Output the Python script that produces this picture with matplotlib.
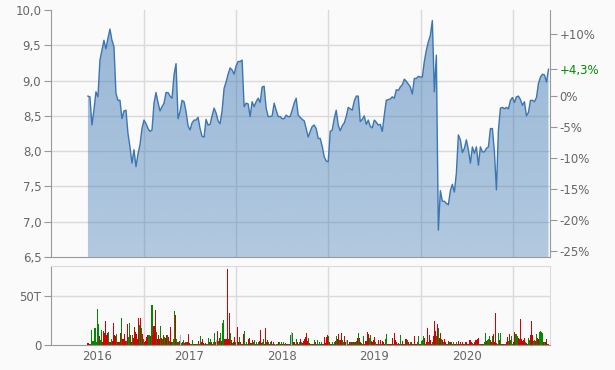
import numpy as np
import pandas as pd
import matplotlib
matplotlib.use("Agg")
import matplotlib.pyplot as plt
import matplotlib.dates as mdates
from matplotlib.ticker import FuncFormatter

# Kurs (EUR), ein Wert alle ~8 Tage
price = [
    8.78, 8.77, 8.37, 8.58, 8.84, 8.77, 9.29, 9.43, 9.57, 9.45,
    9.60, 9.73, 9.57, 9.48, 8.82, 8.72, 8.72, 8.46, 8.57, 8.58,
    8.25, 8.06, 7.83, 8.02, 7.78, 7.96, 8.09, 8.32, 8.44, 8.39,
    8.32, 8.28, 8.30, 8.68, 8.83, 8.69, 8.57, 8.63, 8.68, 8.83,
    8.83, 8.78, 8.75, 9.08, 9.24, 8.46, 8.56, 8.72, 8.70, 8.56,
    8.36, 8.30, 8.40, 8.44, 8.44, 8.48, 8.32, 8.21, 8.20, 8.45,
    8.37, 8.38, 8.50, 8.61, 8.54, 8.43, 8.39, 8.57, 8.89, 8.98,
    9.09, 9.18, 9.15, 9.09, 9.21, 9.27, 9.27, 9.29, 8.63, 8.68,
    8.67, 8.49, 8.70, 8.63, 8.70, 8.75, 8.69, 8.91, 8.92, 8.61,
    8.49, 8.49, 8.50, 8.68, 8.58, 8.49, 8.49, 8.46, 8.46, 8.51,
    8.49, 8.49, 8.58, 8.68, 8.75, 8.51, 8.48, 8.45, 8.43, 8.32,
    8.20, 8.28, 8.35, 8.37, 8.32, 8.18, 8.18, 8.07, 7.92, 7.86,
    7.85, 8.28, 8.30, 8.46, 8.58, 8.37, 8.29, 8.36, 8.40, 8.49,
    8.62, 8.60, 8.58, 8.71, 8.78, 8.78, 8.42, 8.45, 8.50, 8.38,
    8.44, 8.35, 8.33, 8.44, 8.41, 8.37, 8.38, 8.28, 8.51, 8.72,
    8.73, 8.74, 8.77, 8.75, 8.87, 8.86, 8.91, 8.94, 9.02, 8.99,
    8.95, 8.91, 8.81, 9.03, 9.03, 9.06, 9.05, 9.05, 9.27, 9.43,
    9.55, 9.64, 9.85, 8.84, 9.36, 6.88, 7.44, 7.29, 7.29, 7.26,
    7.24, 7.44, 7.53, 7.42, 7.69, 8.23, 8.16, 7.98, 8.04, 8.16,
    8.02, 7.83, 8.06, 7.97, 8.06, 7.80, 8.06, 7.99, 7.99, 8.04,
    8.06, 8.32, 8.32, 7.99, 7.45, 8.30, 8.61, 8.62, 8.60, 8.62,
    8.60, 8.72, 8.76, 8.69, 8.77, 8.78, 8.73, 8.65, 8.70, 8.50,
    8.55, 8.72, 8.72, 8.70, 8.76, 8.96, 9.05, 9.09, 9.08, 8.98,
    9.16,
]

# Umsatz in Tausend Stueck, ein Balken alle ~4 Tage
vol_k = [
    2, 2, 1, 1, 15, 4, 4, 17, 17, 3,
    37, 21, 9, 5, 15, 3, 14, 12, 25, 10,
    12, 13, 3, 3, 6, 4, 22, 10, 9, 11,
    3, 3, 3, 12, 28, 6, 6, 11, 4, 4,
    21, 8, 22, 10, 3, 10, 7, 18, 13, 11,
    6, 28, 20, 28, 17, 11, 6, 3, 4, 8,
    10, 10, 7, 9, 41, 10, 19, 36, 13, 6,
    10, 6, 19, 7, 6, 10, 8, 7, 10, 10,
    8, 4, 18, 3, 3, 6, 35, 31, 6, 3,
    3, 4, 10, 2, 3, 5, 2, 3, 3, 3,
    11, 2, 1, 1, 5, 1, 1, 1, 1, 1,
    4, 1, 9, 3, 6, 2, 1, 2, 1, 1,
    7, 3, 6, 3, 1, 3, 12, 3, 5, 14,
    4, 7, 12, 4, 22, 26, 6, 6, 6, 78,
    6, 33, 12, 5, 2, 3, 8, 3, 1, 18,
    3, 8, 3, 1, 1, 11, 14, 1, 3, 1,
    6, 7, 2, 2, 5, 3, 5, 1, 3, 1,
    3, 4, 15, 2, 3, 6, 1, 17, 3, 5,
    3, 1, 3, 4, 1, 3, 1, 1, 1, 1,
    3, 3, 1, 3, 1, 3, 1, 2, 1, 1,
    1, 1, 10, 13, 12, 3, 3, 1, 6, 3,
    1, 3, 6, 3, 2, 4, 6, 8, 12, 4,
    7, 2, 1, 1, 1, 1, 5, 3, 1, 5,
    1,
    3, 1, 3, 1, 1, 8, 2, 8, 10, 9,
    3, 1, 1, 3, 1, 3, 4, 9, 6, 11,
    5, 5, 12, 5, 3, 9, 3, 5, 5, 1,
    3, 3, 3, 3, 3, 3, 3, 4, 7, 12,
    7, 3, 2, 1, 9, 1, 4, 4, 13, 11,
    7, 10, 4, 3, 5, 8, 3, 1, 1, 5,
    1, 5, 1, 4, 3, 1, 6, 11, 1, 1,
    1, 1, 1, 7, 1, 12, 5, 3, 1, 2,
    1, 10, 1, 4, 1, 1, 6, 6, 5, 3,
    1, 3, 3, 1, 1, 9, 1, 1, 3, 9,
    1, 1, 4, 5, 9, 7, 1, 3, 17, 3,
    10, 5, 1, 3, 9, 24, 14, 9, 21, 17,
    7, 12, 6, 5, 3, 6, 3, 1, 1, 4,
    3, 3, 3, 1, 3, 1, 1, 3, 1, 4,
    1, 3, 1, 3, 1, 1, 3, 3, 1, 1,
    5, 5, 3, 2, 1, 3, 5, 5, 6, 7,
    1, 1, 1, 1, 1, 3, 12, 4, 5, 6,
    9, 5, 3, 9, 11, 3, 33, 2, 1, 12,
    5, 12, 1, 1, 1, 1, 1, 3, 8, 4,
    11, 5, 9, 1, 3, 13, 11, 11, 9, 7,
    6, 27, 6, 4, 5, 7, 3, 2, 1, 7,
    5, 10, 25, 10, 4, 5, 4, 11, 7, 6,
    13, 14, 13, 12, 3, 3, 3, 6, 1, 1,
]
# g = steigend, r = fallend, b = unveraendert
vol_dir = (
    "rrrggggggg" "ggrggrrrrr" "rgrrgrrrrg" "rrrrgrrrrg" "rggrrgrrrr"
    "rrgrgrgrrr" "rggrgrrrgr" "rrgrgrgrrg" "rgrrgggrgr" "grbgrgrrgr"
    "rrgggrrrgg" "rggrrrgrgg" "grgrrggrbr" "grgrggrrrr" "rrgrgrrgbr"
    "rgrgrrgrgg" "rrrgrggrgr" "grrrggrrgr" "grgrgrrbrg" "rgrgrgrgrr"
    "grgbgrrggr" "rgrgrrrrrr" "grrgrrgrrg" "g"
    "grgrrrrrrg" "rrrgggrgrr" "grrggrrbgr" "rgrgrgrgrg" "rrgrgrrrrr"
    "ggrrrrgrrr" "grgrrrggrr" "rrrrgrrrrg" "rgrrrgrrgr" "rgrrgrrrgg"
    "rrgggrgrrg" "rrrgrrrgrg" "rrgrgrrgrr" "grgrgrrgrr" "rrgrrgrrgr"
    "rrrgrrrrrr" "ggrrrggrgg" "grrgrrrgrg" "rgrrrgrrrg" "rgggrrgggr"
    "rrrrrrgrrg" "grrrggrgrr" "ggggrgrrgr"
)

first_day, last_day = "2016-05-26", "2021-05-21"
view_from, view_to = "2016-01-01", "2021-05-27"
years = [2016, 2017, 2018, 2019, 2020]

bg = "#fafafa"
txt = "#666666"
grid_c = "#dadada"
spine_c = "#999999"
plt.rcParams["font.family"] = "DejaVu Sans"
plt.rcParams["font.size"] = 8.5

p_dates = mdates.date2num(pd.date_range(first_day, last_day, periods=len(price)))
v_dates = mdates.date2num(pd.date_range(first_day, last_day, periods=len(vol_k)))
x0, x1 = mdates.date2num(pd.Timestamp(view_from)), mdates.date2num(pd.Timestamp(view_to))
jan = [mdates.date2num(pd.Timestamp(f"{y + 1}-01-01")) for y in years]
jul = [mdates.date2num(pd.Timestamp(f"{y}-07-01")) for y in years]

fig = plt.figure(figsize=(6.15, 3.70), dpi=100, facecolor=bg)
ax = fig.add_axes([51 / 615, 1 - 257 / 370, 499 / 615, 247 / 370], facecolor=bg)
axv = fig.add_axes([51 / 615, 1 - 344.7 / 370, 499 / 615, 78.4 / 370], facecolor=bg)

# --- Kurs ---
ax.set_xlim(x0, x1)
ax.set_ylim(6.5, 10.0)
yt = [6.5, 7.0, 7.5, 8.0, 8.5, 9.0, 9.5, 10.0]
ax.set_yticks(yt)
ax.yaxis.set_major_formatter(FuncFormatter(lambda v, p: f"{v:.1f}".replace(".", ",")))
for v in yt[1:-1]:
    ax.axhline(v, color=grid_c, lw=1, zorder=0)
for d in jan:
    ax.axvline(d, color=grid_c, lw=1, zorder=0)

poly = ax.fill_between(p_dates, price, 6.5, color="none", lw=0)
grad = np.zeros((100, 1, 4))
grad[:, 0, 0] = 60 / 255
grad[:, 0, 1] = 120 / 255
grad[:, 0, 2] = 180 / 255
grad[:, 0, 3] = np.linspace(0.52, 0.38, 100)
img = ax.imshow(grad, extent=[x0, x1, 6.5, 10.0], aspect="auto", origin="upper", zorder=1)
img.set_clip_path(poly.get_paths()[0], transform=ax.transData)
ax.plot(p_dates, price, color="#3b76b2", lw=1.0, zorder=2)

for s in ["top", "right"]:
    ax.spines[s].set_visible(False)
for s in ["left", "bottom"]:
    ax.spines[s].set_color(spine_c)
ax.tick_params(axis="y", colors=spine_c, labelcolor=txt, length=5, pad=2)
ax.tick_params(axis="x", bottom=False, labelbottom=False)

base = price[0]
chg = round((price[-1] / base - 1) * 100, 1)
sec = ax.secondary_yaxis("right", functions=(lambda p: (p / base - 1) * 100,
                                             lambda q: base * (1 + q / 100)))
pct = [10, chg, 0, -5, -10, -15, -20, -25]
labels = []
for q in pct:
    if q == chg:
        labels.append(f"+{q:.1f}%".replace(".", ","))
    elif q > 0:
        labels.append(f"+{q:d}%")
    else:
        labels.append(f"{q:d}%")
sec.set_yticks(pct)
sec.set_yticklabels(labels)
sec.spines["right"].set_color(spine_c)
sec.tick_params(colors=spine_c, labelcolor=txt, length=5, pad=2)
for t, lab in zip(sec.yaxis.get_major_ticks(), sec.get_yticklabels()):
    if lab.get_text().startswith("+4"):
        lab.set_color("#008a00")
        t.tick1line.set_color("#008a00")
        t.tick2line.set_color("#008a00")

# --- Umsatz ---
col = {"g": "#008a00", "r": "#d40000", "b": "#a3b8d0"}
axv.bar(v_dates, vol_k, width=4.0, color=[col[c] for c in vol_dir], lw=0,
        antialiased=False, zorder=2)
axv.set_xlim(x0, x1)
axv.set_ylim(0, 81)
axv.set_yticks([0, 50])
axv.set_yticklabels(["0", "50T"])
axv.axhline(50, color=grid_c, lw=1, zorder=0)
for d in jan:
    axv.axvline(d, color=grid_c, lw=1, zorder=0)
axv.set_xticks(jul)
axv.set_xticklabels([str(y) for y in years])
axv.tick_params(axis="x", length=0, pad=4, labelcolor=txt)
axv.tick_params(axis="y", colors=spine_c, labelcolor=txt, length=5, pad=2)
for s in ["top", "right"]:
    axv.spines[s].set_color(grid_c)
for s in ["left", "bottom"]:
    axv.spines[s].set_color(spine_c)

fig.savefig("out.png", dpi=100, facecolor=bg)
